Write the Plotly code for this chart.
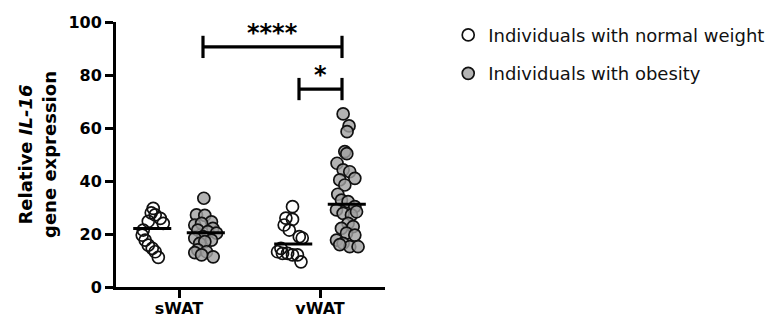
import plotly.graph_objects as go

# ---------------- data ----------------
categories = ["sWAT", "vWAT"]
cat_pos = [0, 1]
group_offset = {"normal": -0.19, "obese": 0.19}

swat_normal = [29.7, 28.0, 27.2, 25.9, 24.0, 24.8, 21.5, 19.6, 17.7, 15.8, 14.6, 13.3, 11.2]
swat_normal_jit = [0.007, -0.007, 0.021, 0.057, 0.078, -0.028, -0.064, -0.071, -0.05, -0.028, 0.0, 0.021, 0.043]

swat_obese = [33.5, 27.2, 27.0, 24.6, 23.4, 24.0, 22.1, 21.5, 20.9, 20.3, 19.0, 18.4, 17.7, 16.5, 17.1,
              14.0, 13.3, 13.0, 11.4, 12.1]
swat_obese_jit = [-0.014, -0.066, -0.007, 0.04, -0.078, -0.03, 0.05, -0.057, 0.014, 0.076, -0.021, -0.078,
                  0.04, -0.043, -0.007, -0.057, 0.005, -0.078, 0.052, -0.03]

vwat_normal = [30.3, 26.0, 25.5, 23.4, 21.5, 19.0, 18.5, 14.6, 13.3, 12.7, 12.7, 12.1, 12.1, 9.5]
vwat_normal_jit = [-0.005, -0.052, -0.005, -0.064, -0.028, 0.043, 0.064, -0.087, -0.111, -0.076, -0.04,
                   -0.005, 0.03, 0.055]

vwat_obese = [65.3, 60.8, 58.6, 51.1, 50.3, 46.7, 44.2, 43.5, 41.0, 40.4, 38.5, 35.0, 32.8, 32.2, 30.3,
              29.1, 27.8, 27.2, 28.4, 24.0, 22.1, 22.8, 20.3, 19.6, 17.7, 16.5, 15.2, 15.2, 16.0]
vwat_obese_jit = [-0.026, 0.016, 0.002, -0.014, 0.0, -0.069, -0.026, 0.021, 0.057, -0.05, -0.014, -0.064,
                  -0.038, 0.009, 0.057, -0.073, -0.026, 0.033, 0.069, 0.009, -0.038, 0.045, -0.002, 0.057,
                  -0.073, -0.026, 0.021, 0.08, -0.05]

medians_normal = [22.1, 16.2]
medians_obese = [20.5, 31.2]

# comparisons: (x start, x end, bar y, label)
comparisons = [
    (0.17, 1.156, 90.6, "****"),
    (0.851, 1.156, 74.7, "*"),
]

y_ticks = [0, 20, 40, 60, 80, 100]
legend_names = ["Individuals with normal weight", "Individuals with obesity"]

# ---------------- figure ----------------
FONT = "DejaVu Sans"
fig = go.Figure()

normal_vals = [swat_normal, vwat_normal]
normal_jits = [swat_normal_jit, vwat_normal_jit]
obese_vals = [swat_obese, vwat_obese]
obese_jits = [swat_obese_jit, vwat_obese_jit]

for i in range(2):
    xs = [cat_pos[i] + group_offset["normal"] + j for j in normal_jits[i]]
    fig.add_trace(go.Scatter(
        x=xs, y=normal_vals[i], mode="markers",
        name=legend_names[0], legendgroup="n", showlegend=(i == 0),
        marker=dict(size=12, color="rgba(255,255,255,0)",
                    line=dict(color="#111111", width=1.7)),
    ))
for i in range(2):
    xs = [cat_pos[i] + group_offset["obese"] + j for j in obese_jits[i]]
    fig.add_trace(go.Scatter(
        x=xs, y=obese_vals[i], mode="markers",
        name=legend_names[1], legendgroup="o", showlegend=(i == 0),
        marker=dict(size=12, color="rgba(160,160,160,0.8)",
                    line=dict(color="#111111", width=1.7)),
    ))

# median lines
half = 0.135
for i in range(2):
    for key, med in (("normal", medians_normal[i]), ("obese", medians_obese[i])):
        c = cat_pos[i] + group_offset[key]
        fig.add_trace(go.Scatter(
            x=[c - half, c + half], y=[med, med], mode="lines",
            line=dict(color="black", width=3), showlegend=False, hoverinfo="skip",
        ))

# significance bars
cap = 4.2
for x0, x1, yb, lab in comparisons:
    fig.add_shape(type="line", xref="x", yref="y", x0=x0, x1=x1, y0=yb, y1=yb,
                  line=dict(color="black", width=3.2))
    for xe in (x0, x1):
        fig.add_shape(type="line", xref="x", yref="y", x0=xe, x1=xe, y0=yb - cap, y1=yb + cap,
                      line=dict(color="black", width=3.2))
    fig.add_annotation(x=(x0 + x1) / 2, y=yb, text="<b>" + lab + "</b>", showarrow=False,
                       xref="x", yref="y", yanchor="bottom", yshift=-2,
                       font=dict(family=FONT, size=24, color="black"))

fig.update_layout(
    width=774, height=320, autosize=False,
    margin=dict(l=116, r=389, t=22, b=33, pad=0, autoexpand=False),
    paper_bgcolor="white", plot_bgcolor="white",
    showlegend=True,
    legend=dict(x=1.235, y=1.02, xanchor="left", yanchor="top",
                font=dict(family=FONT, size=18, color="#111111"),
                traceorder="grouped", tracegroupgap=12, bgcolor="rgba(0,0,0,0)"),
)

fig.update_xaxes(
    range=[-0.447, 1.461], tickvals=cat_pos, ticktext=["<b>" + c + "</b>" for c in categories],
    showline=True, linewidth=3, linecolor="black", ticks="outside", ticklen=8, tickwidth=3,
    tickcolor="black", showgrid=False, zeroline=False, automargin=False,
    ticklabelstandoff=-3,
    tickfont=dict(family=FONT, size=16, color="black"),
)
fig.update_yaxes(
    range=[0, 100], tickvals=y_ticks, ticktext=["<b>%d</b>" % v for v in y_ticks],
    showline=True, linewidth=3, linecolor="black", ticks="outside", ticklen=8, tickwidth=3,
    tickcolor="black", showgrid=False, zeroline=False, automargin=False,
    tickfont=dict(family=FONT, size=16, color="black"),
    title=dict(text="<b>Relative <i>IL-16</i></b><br><b>gene expression</b>",
               font=dict(family=FONT, size=18, color="black"), standoff=8),
)

fig.write_html("out.html", config={"displayModeBar": False, "responsive": False},
               post_script="document.body.style.margin='0';document.body.style.overflow='hidden';")
